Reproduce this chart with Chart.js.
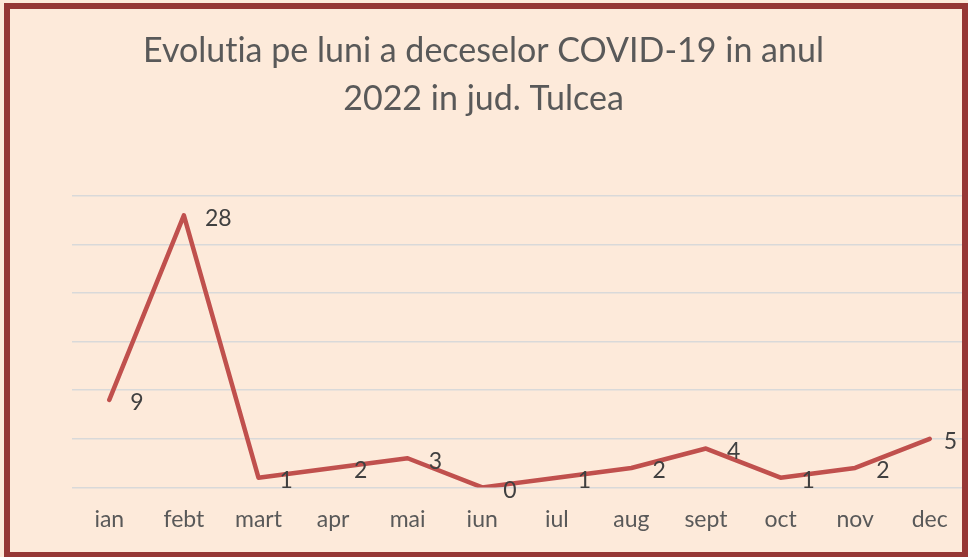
<!DOCTYPE html>
<html>
<head>
<meta charset="utf-8">
<script src="https://cdn.jsdelivr.net/npm/chart.js@4"></script>
<style>
  html, body { margin: 0; padding: 0; background: #FDEADA; }
  #wrap { position: absolute; left: 0; top: 0; width: 968px; height: 557px; background: #FDEADA; }
  #frame { position: absolute; left: 4px; top: 3px; width: 964px; height: 555px; box-sizing: border-box;
           border: 6px solid #953735; pointer-events: none; }
</style>
</head>
<body>
<div id="wrap"><canvas id="grafic"></canvas></div>
<div id="frame"></div>
<script>
// Date: decese COVID-19 pe luni, 2022, jud. Tulcea
const luni = ["ian", "febt", "mart", "apr", "mai", "iun", "iul", "aug", "sept", "oct", "nov", "dec"];
const decese = [9, 28, 1, 2, 3, 0, 1, 2, 4, 1, 2, 5];
// \u200C opreste ligatura "ti" din Lato
const titlu = ["Evolut\u200Cia pe luni a deceselor COVID-19 in anul", "2022 in jud. Tulcea"];

// etichete cu valorile, la dreapta punctelor
const eticheteValori = {
  id: "eticheteValori",
  afterDatasetsDraw(chart) {
    const ctx = chart.ctx;
    const meta = chart.getDatasetMeta(0);
    ctx.save();
    ctx.font = "23px Lato";
    ctx.fillStyle = "#404040";
    ctx.textAlign = "left";
    ctx.textBaseline = "middle";
    meta.data.forEach((p, i) => {
      const txt = String(decese[i]);
      const w = ctx.measureText(txt).width;
      const x = Math.min(p.x + 21, chart.width - 11 - w);
      ctx.fillText(txt, x, p.y + 3);
    });
    ctx.restore();
  },
};

new Chart(document.getElementById("grafic"), {
  type: "line",
  data: {
    labels: luni,
    datasets: [
      {
        label: "Decese",
        data: decese,
        borderColor: "#C0504D",
        borderWidth: 4.5,
        borderJoinStyle: "round",
        borderCapStyle: "round",
        pointRadius: 0,
        tension: 0,
        fill: false,
      },
    ],
  },
  options: {
    responsive: true,
    maintainAspectRatio: false,
    animation: false,
    layout: {
      padding: { left: 0, right: 1, top: 0, bottom: 6 },
    },
    scales: {
      x: {
        offset: true,
        grid: { display: false, drawTicks: false },
        border: { display: false },
        ticks: {
          color: "#595959",
          font: { family: "Lato", size: 23 },
          padding: 18,
          maxRotation: 0,
        },
      },
      y: {
        min: 0,
        max: 30,
        afterFit: (s) => { s.width = 72; },
        grid: { color: "#D9D9D9", lineWidth: 1.5, drawTicks: false },
        border: { display: false },
        ticks: { display: false, stepSize: 5 },
      },
    },
    plugins: {
      legend: { display: false },
      tooltip: { enabled: false },
      title: {
        display: true,
        text: titlu,
        color: "#595959",
        font: { family: "Lato", size: 34, weight: "normal", lineHeight: 1.41 },
        padding: { top: 27, bottom: 73 },
      },
    },
  },
  plugins: [eticheteValori],
});
</script>
</body>
</html>
